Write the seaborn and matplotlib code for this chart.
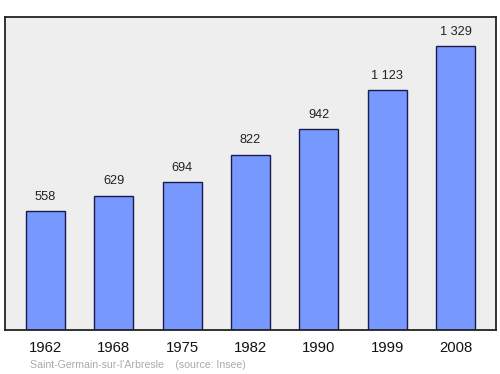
import matplotlib
matplotlib.use("Agg")
import matplotlib.pyplot as plt
import seaborn as sns
import pandas as pd

years = ["1962", "1968", "1975", "1982", "1990", "1999", "2008"]
population = [558, 629, 694, 822, 942, 1123, 1329]
value_labels = ["558", "629", "694", "822", "942", "1 123", "1 329"]
source_text = "Saint-Germain-sur-l'Arbresle    (source: Insee)"

sns.set_style("white")
plt.rcParams['font.family'] = ['Liberation Sans', 'DejaVu Sans']

df = pd.DataFrame({"year": years, "pop": population})

fig = plt.figure(figsize=(5, 3.74), dpi=100)
ax = fig.add_axes([0.01, 0.1176, 0.982, 0.837])
ax.set_facecolor("#eeeeee")

sns.barplot(data=df, x="year", y="pop", ax=ax, color="#7799ff", saturation=1,
            width=0.57, edgecolor="#1a1a4d", linewidth=1.0)

for i, (v, lab) in enumerate(zip(population, value_labels)):
    ax.annotate(lab, (i, v), xytext=(0, 6), textcoords="offset points",
                ha="center", va="bottom", fontsize=9.2, color="#222222")

ax.set_xlim(-0.593, 6.593)
ax.set_ylim(0, 1467)
ax.set_yticks([])
ax.set_xlabel("")
ax.set_ylabel("")
ax.tick_params(axis="x", length=0, pad=8, labelsize=10.7, colors="#111111")
for s in ax.spines.values():
    s.set_visible(True)
    s.set_color("#222222")
    s.set_linewidth(1.3)

fig.text(0.06, 0.024, source_text, fontsize=7.6, color="#aaaaaa", ha="left", va="center")

fig.savefig("out.png", dpi=100)
